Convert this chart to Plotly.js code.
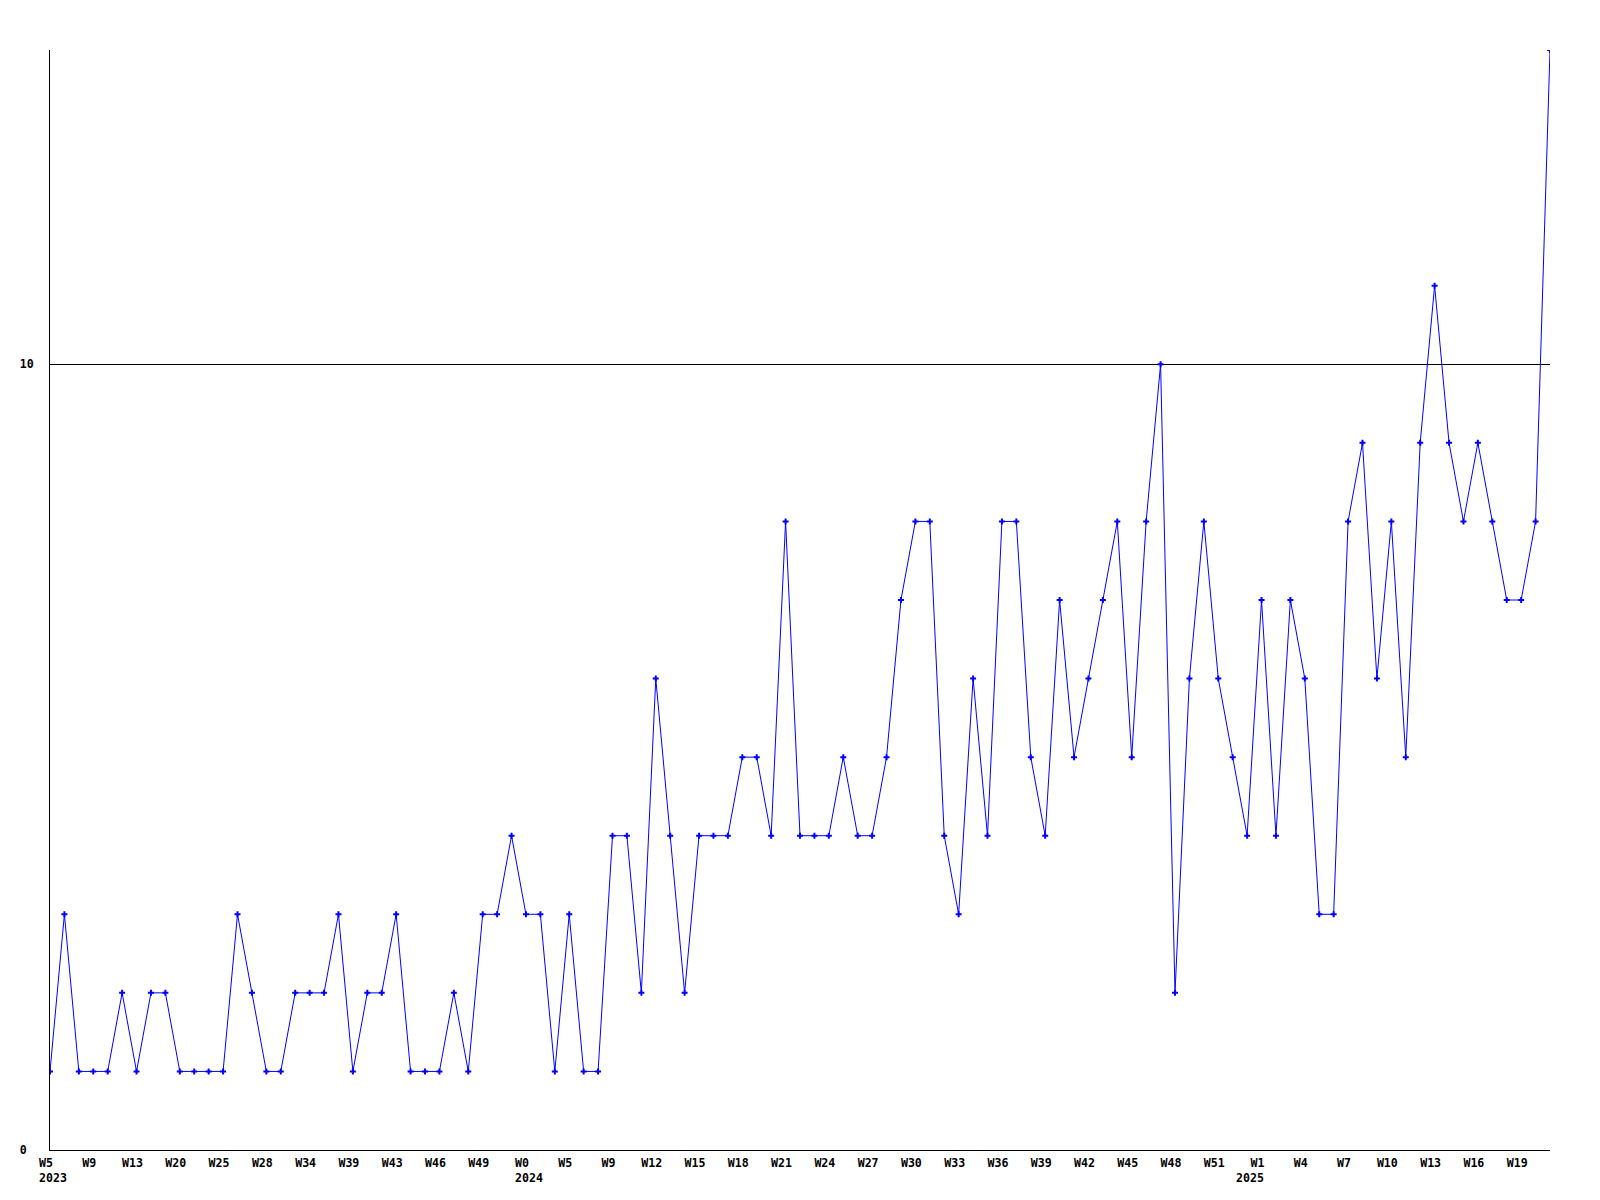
<!DOCTYPE html>
<html>
<head>
<meta charset="utf-8">
<script src="https://cdn.plot.ly/plotly-3.0.1.min.js"></script>
<style>html,body{margin:0;padding:0;background:#fff;}#chart{width:1600px;height:1200px;}</style>
</head>
<body>
<div id="chart"></div>
<script>
// Week labels for each point (one point per week with data)
const weeks2023 = ["W5","W6","W8","W9","W10","W12","W13","W15","W17","W20","W22","W24","W25","W26","W27","W28","W30","W32","W34","W36","W37","W39","W40","W42","W43","W44","W45","W46","W47","W48","W49","W50","W51"];
const weeks2024 = ["W0","W2","W3","W5","W6","W8","W9","W10","W11","W12","W13","W14","W15","W16","W17","W18","W19","W20","W21","W22","W23","W24","W25","W26","W27","W28","W29","W30","W31","W32","W33","W34","W35","W36","W37","W38","W39","W40","W41","W42","W43","W44","W45","W46","W47","W48","W49","W50","W51","W52"];
const weeks2025 = ["W0","W1","W2","W3","W4","W5","W6","W7","W8","W9","W10","W11","W12","W13","W14","W15","W16","W17","W18","W19","W20","W21"];
const years = ["2023","2024","2025"];

const values2023 = [1,3,1,1,1,2,1,2,2,1,1,1,1,3,2,1,1,2,2,2,3,1,2,2,3,1,1,1,2,1,3,3,4];
const values2024 = [3,3,1,3,1,1,4,4,2,6,4,2,4,4,4,5,5,4,8,4,4,4,5,4,4,5,7,8,8,4,3,6,4,8,8,5,4,7,5,6,7,8,5,8,10,2,6,8,6,5];
const values2025 = [4,7,4,7,6,3,3,8,9,6,8,5,9,11,9,8,9,8,7,7,8,14];

const yTicks = [0, 10];
const yTickText = ["0", "10"];

// Build per-point arrays
const weekGroups = [weeks2023, weeks2024, weeks2025];
const weekLabels = [].concat(weeks2023, weeks2024, weeks2025);
const values = [].concat(values2023, values2024, values2025);
const xs = values.map((v,i)=>i);

const tickvals = [], ticktext = [];
for (let i = 0; i < xs.length; i += 3) {
  tickvals.push(i);
  ticktext.push(weekLabels[i]);
}

// year labels centred under the first week of each year
const yearStart = [];
let acc = 0;
weekGroups.forEach(g => { yearStart.push(acc); acc += g.length; });

// left-align y labels (monospace): pad with non-breaking spaces
const maxLen = Math.max.apply(null, yTickText.map(s=>s.length));
const yTickPadded = yTickText.map(s => s + "\u00a0".repeat(maxLen - s.length));

const font = {family: "DejaVu Sans Mono, monospace", size: 11.6, color: "#000", weight: "bold"};

const trace = {
  x: xs, y: values, type: "scatter", mode: "lines+markers",
  line: {color: "#0000ff", width: 1},
  marker: {color: "#0000ff", symbol: "cross", size: 5, line: {width: 0}},
  hoverinfo: "skip"
};

const annotations = years.map((yr, k) => ({
  x: yearStart[k], xref: "x", y: 0, yref: "paper",
  text: yr, showarrow: false, xanchor: "center", yanchor: "top",
  xshift: 3, yshift: -20, font: font, borderpad: 0
}));

const layout = {
  width: 1600, height: 1200,
  margin: {l: 50, r: 50, t: 50, b: 50},
  paper_bgcolor: "#fff", plot_bgcolor: "#fff",
  showlegend: false,
  font: font,
  annotations: annotations,
  xaxis: {
    range: [0, xs.length - 1], tickvals: tickvals, ticktext: ticktext,
    showgrid: false, zeroline: false, showline: true, linecolor: "#000", linewidth: 1,
    ticks: "", ticklabelstandoff: 2, ticklabelshift: -4, tickfont: font, fixedrange: true, tickangle: 0
  },
  yaxis: {
    range: [0, 14], tickvals: yTicks, ticktext: yTickPadded,
    showgrid: true, gridcolor: "#000", gridwidth: 1, zeroline: false,
    showline: true, linecolor: "#000", linewidth: 1,
    ticks: "", ticklabelstandoff: 13, tickfont: font, fixedrange: true
  }
};

Plotly.newPlot("chart", [trace], layout, {staticPlot: true, displayModeBar: false});
</script>
</body>
</html>
